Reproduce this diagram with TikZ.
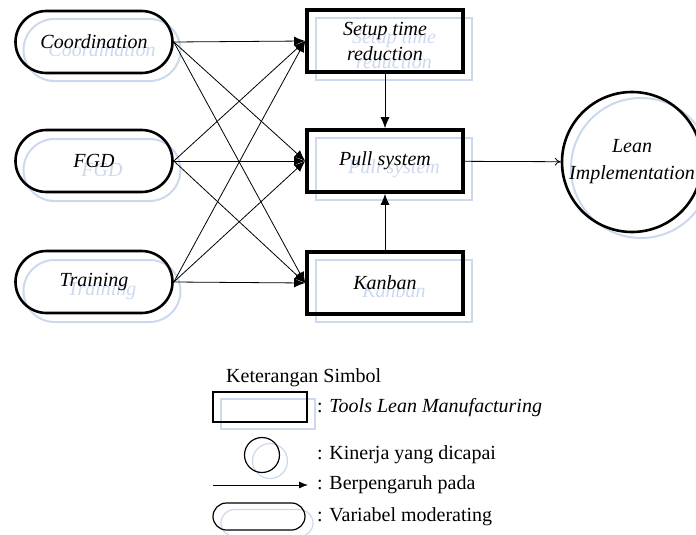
\documentclass[tikz,border=0pt]{standalone}
\usepackage{fontspec}
\setmainfont{Liberation Serif}
\usetikzlibrary{arrows.meta}
\definecolor{ghostblue}{HTML}{CCD8EE}
\tikzset{
  lbl/.style={font=\fontsize{20}{25}\selectfont\itshape, align=center},
  modbox/.style={draw, line width=2.6pt, rounded corners=31pt, minimum width=157pt, minimum height=62pt, inner sep=0pt, lbl},
  toolbox/.style={draw, line width=3.6pt, minimum width=156pt, minimum height=62pt, inner sep=0pt, lbl},
  perfc/.style={draw, circle, line width=2.6pt, minimum size=140pt, inner sep=0pt, lbl, font=\fontsize{20}{27}\selectfont\itshape},
  shd/.style={draw=ghostblue, text=ghostblue, line width=2pt},
  conn/.style={line width=0.8pt, -{Latex[length=11pt,width=9pt]}},
  leg/.style={font=\fontsize{20}{24}\selectfont, anchor=west, inner sep=0pt},
}
\begin{document}
\begin{tikzpicture}[x=1pt,y=-1pt]
\useasboundingbox (0,0) rectangle (696,535);
% shadows
\node[modbox,shd] (sco) at (102,50) {Coordination};
\node[modbox,shd] (sfg) at (102,170) {FGD};
\node[modbox,shd] (str) at (102,291) {Training};
\node[toolbox,shd,line width=2pt] (ssu) at (394,49) {Setup time\\reduction};
\node[toolbox,shd,line width=2pt] (spu) at (394,169) {Pull system};
\node[toolbox,shd,line width=2pt] (ska) at (394,291) {Kanban};
\node[perfc,shd] (sle) at (641,168) {};
% main nodes
\node[modbox] (co) at (94,42) {Coordination};
\node[modbox] (fg) at (94,161) {FGD};
\node[modbox] (tr) at (94,282) {Training};
\node[toolbox] (su) at (385,41) {Setup time\\reduction};
\node[toolbox] (pu) at (385,161) {Pull system};
\node[toolbox] (ka) at (385,283) {Kanban};
\node[perfc] (le) at (632,162) {Lean\\Implementation};
% connectors
\foreach \a in {co,fg,tr}{
  \foreach \b in {su,pu,ka}{
    \draw[conn] (\a.east) -- (\b.west);
  }
}
\draw[conn] (su) -- (pu);
\draw[conn] (ka) -- (pu);
\draw[line width=0.8pt, -{To[length=6pt,width=8pt]}] (pu) -- (le);
% legend
\node[leg] (lt) at (226,378) {Keterangan Simbol};
\node[draw=ghostblue, line width=1.2pt, minimum width=94pt, minimum height=30pt, inner sep=0pt] (slr) at (268,414) {};
\node[draw, line width=1.2pt, minimum width=94pt, minimum height=30pt, inner sep=0pt] (lr) at (260,407) {};
\node[leg] (l1) at (317,408) {: \textit{Tools Lean Manufacturing}};
\node[draw=ghostblue, circle, line width=1.2pt, minimum size=35pt, inner sep=0pt] (slc) at (270,461) {};
\node[draw, circle, line width=1.2pt, minimum size=35pt, inner sep=0pt] (lc) at (262,455) {};
\node[leg] (l2) at (317,455) {: Kinerja yang dicapai};
\coordinate (a1) at (213,485);
\coordinate (a2) at (308,485);
\draw[line width=0.8pt, -{Latex[length=9pt,width=7pt]}] (a1) -- (a2);
\node[leg] (l3) at (317,485) {: Berpengaruh pada};
\node[draw=ghostblue, line width=1.2pt, rounded corners=13.5pt, minimum width=92pt, minimum height=27pt, inner sep=0pt] (sls) at (267,523) {};
\node[draw, line width=1.2pt, rounded corners=13.5pt, minimum width=92pt, minimum height=27pt, inner sep=0pt] (ls) at (259,516.5) {};
\node[leg] (l4) at (317,517) {: Variabel moderating};
\end{tikzpicture}
\end{document}
